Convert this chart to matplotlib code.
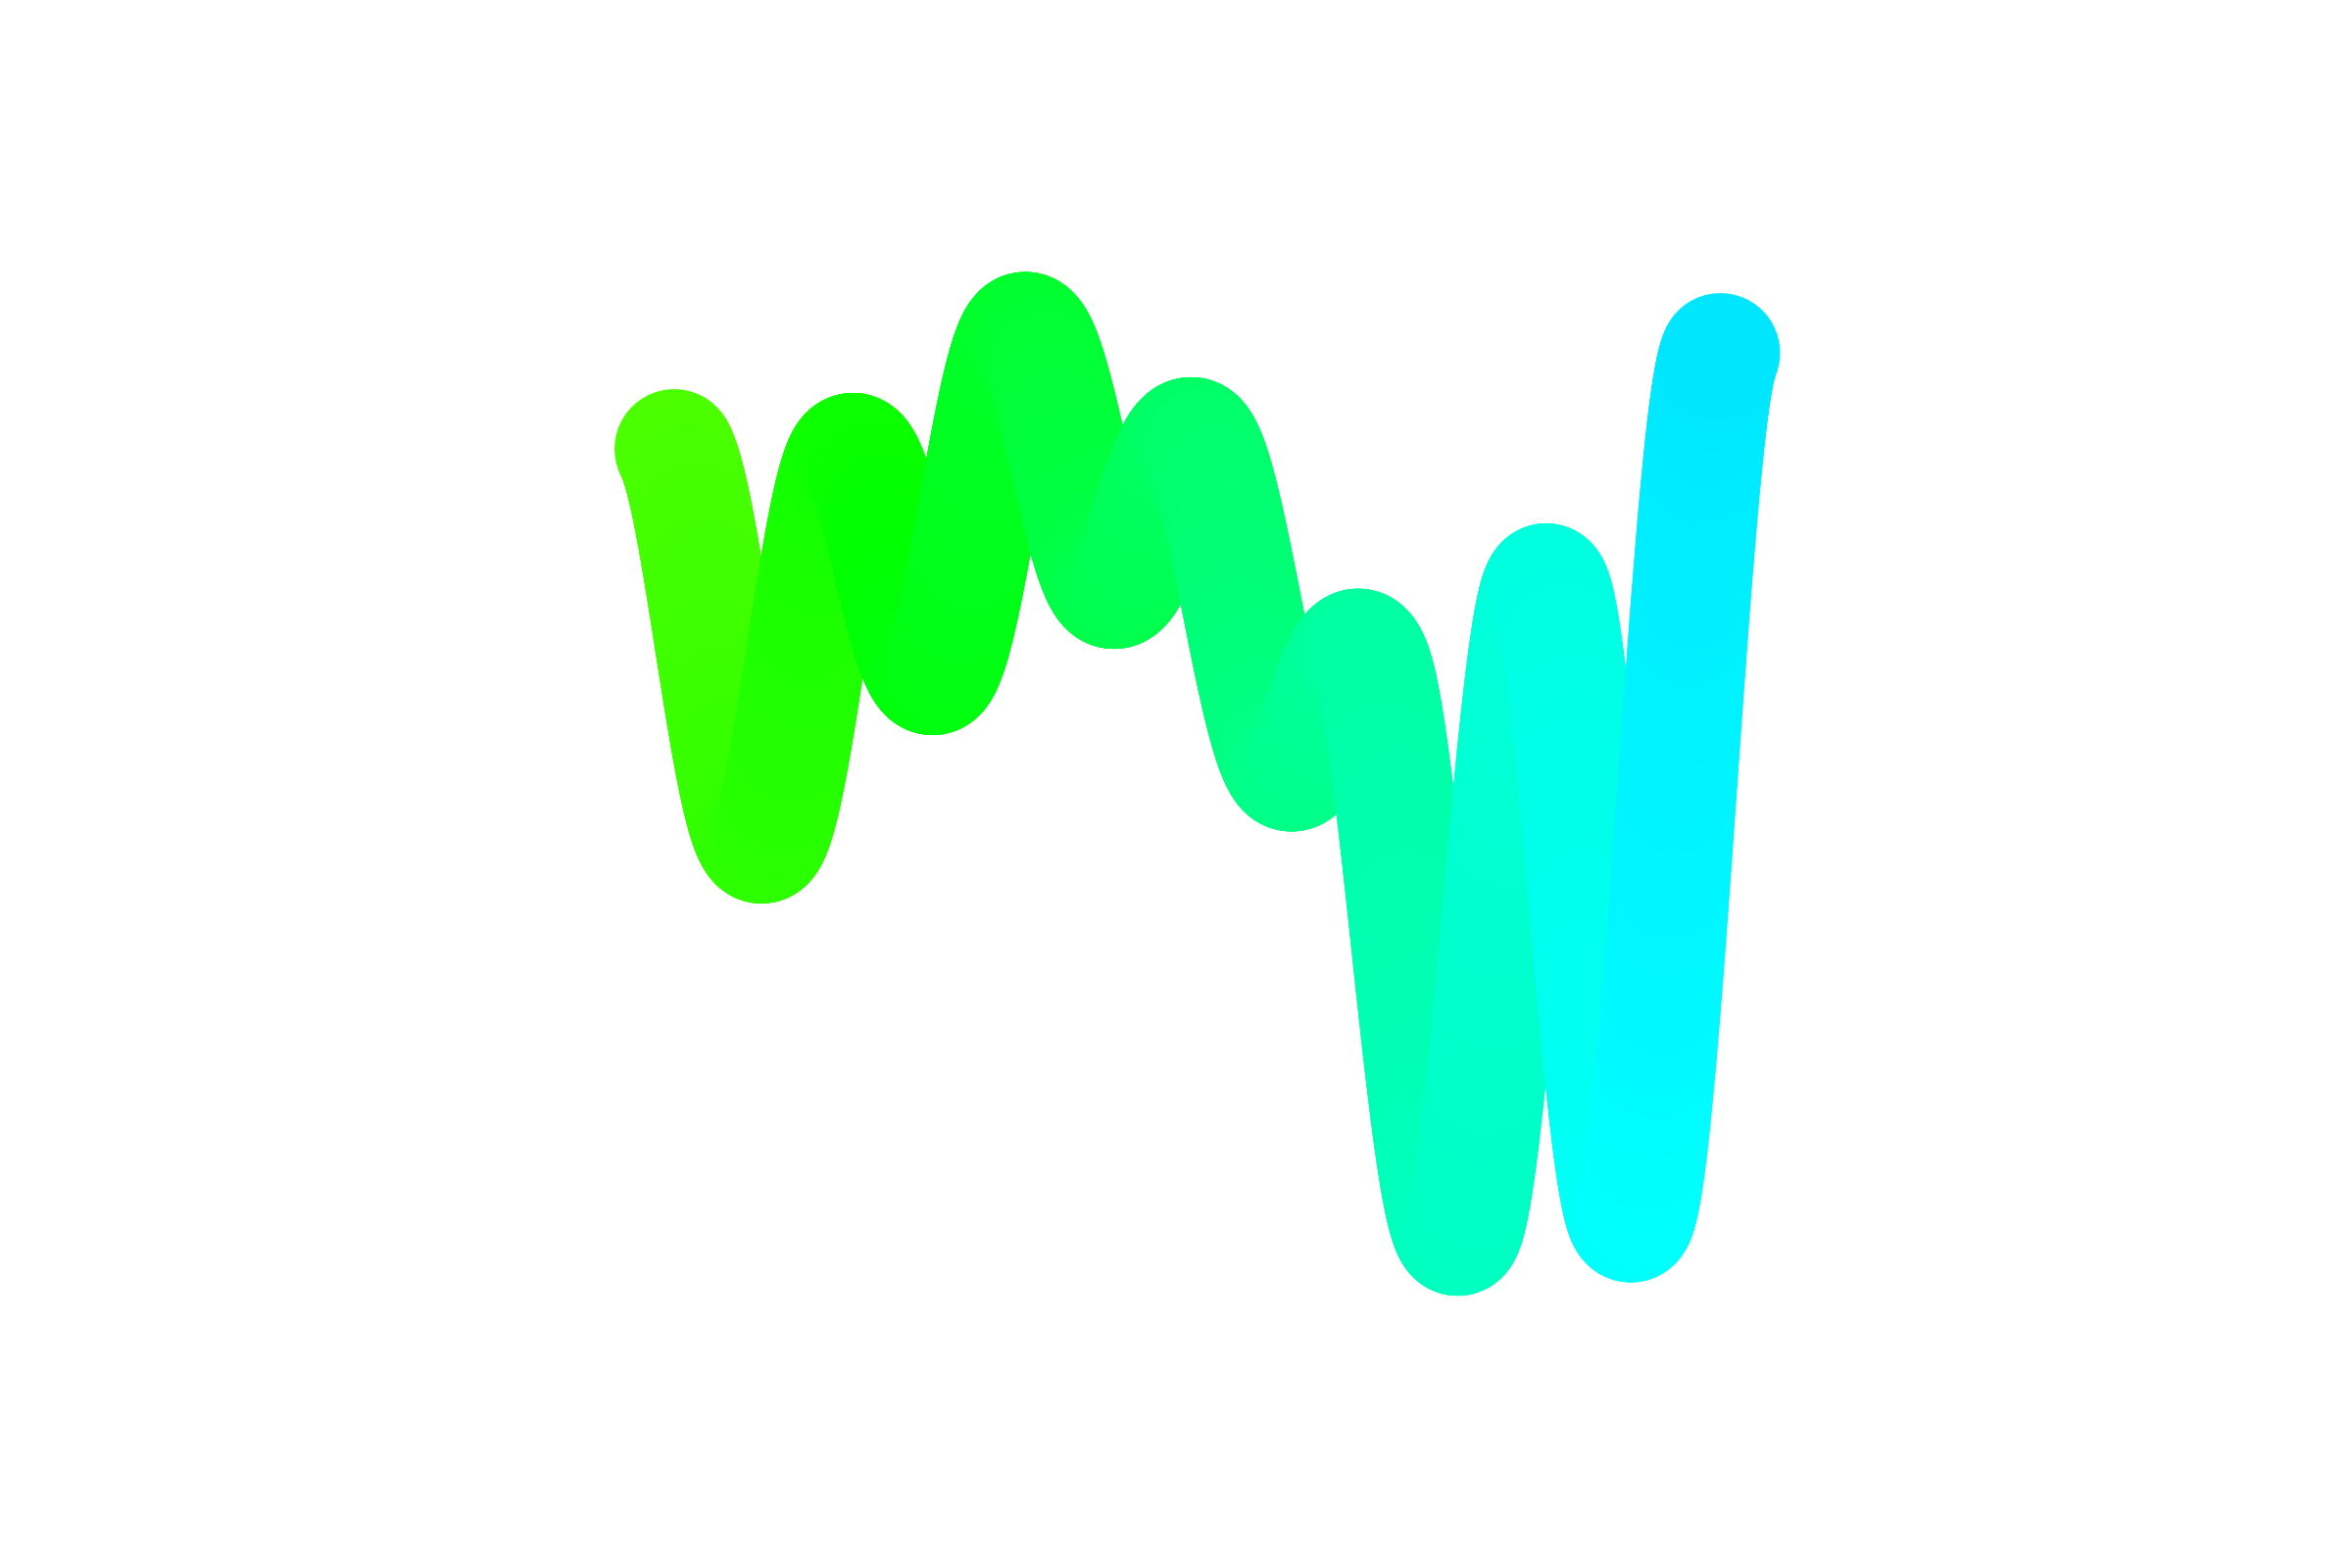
import numpy as np
import matplotlib
matplotlib.use('Agg')
import matplotlib.pyplot as plt
from matplotlib.collections import LineCollection
from matplotlib.colors import hsv_to_rgb

# first and last values are only guide points for the spline ends, not drawn
steps = np.arange(-1, 14)
values = np.array([83.9, 94.2, 53.9, 93.6, 71.2, 106.1, 80.0, 95.1,
                   61.7, 72.1, 13.9, 80.5, 15.4, 104.0, 48.8])

# hue of the line goes from yellow-green to cyan (degrees)
hue_start = 102
hue_end = 186
n_sub = 100  # pieces per segment


def catmull_rom(x, y, n=n_sub):
    P = np.column_stack([x, y]).astype(float)
    out = []
    for i in range(1, len(P) - 2):
        p0, p3 = P[i], P[i + 1]
        c1 = p0 + (P[i + 1] - P[i - 1]) / 6.0
        c2 = p3 - (P[i + 2] - P[i]) / 6.0
        t = np.linspace(0, 1, n + 1)[:, None]
        if i > 1:
            t = t[1:]
        b = (1 - t) ** 3 * p0 + 3 * (1 - t) ** 2 * t * c1 + 3 * (1 - t) * t ** 2 * c2 + t ** 3 * p3
        out.append(b)
    return np.vstack(out)


pts = catmull_rom(steps, values)
segs = np.stack([pts[:-1], pts[1:]], axis=1)

frac = np.arange(len(segs)) / len(segs)
h = (hue_start + (hue_end - hue_start) * frac) / 360.0
colors = hsv_to_rgb(np.column_stack([h, np.ones_like(h), np.ones_like(h)]))

fig = plt.figure(figsize=(24, 16), dpi=100)
ax = fig.add_axes([0, 0, 1, 1])
lc = LineCollection(segs, colors=colors, linewidths=87.8, capstyle='round')
ax.add_collection(lc)
ax.set_xlim(-7.734, 19.245)
ax.set_ylim(-20, 140)
ax.axis('off')

fig.savefig('out.png', dpi=100)
